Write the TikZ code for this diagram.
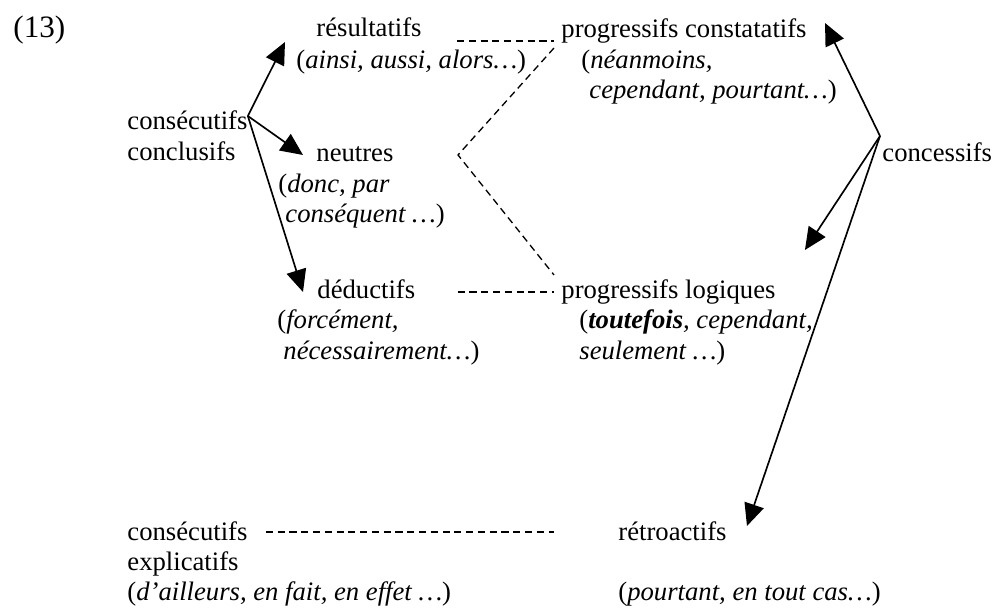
\documentclass[tikz,border=0pt]{standalone}
\usepackage{fontspec}
\setmainfont{Liberation Serif}
\usetikzlibrary{arrows.meta}
\tikzset{
term/.style={
    inner sep=0pt,
    anchor=base west,
    font=\fontsize{12}{13.8}\selectfont
},
points/.style={
    -{Triangle[length=10pt,width=9pt]},
    line width=0.75pt
},
matches/.style={
    dash pattern=on 3.2pt off 2.1pt,
    line width=0.6pt
}}

\begin{document}
\begin{tikzpicture}[x=0.45pt, y=-0.45pt]
\useasboundingbox (0,0) rectangle (994,615);

\node[term, font=\fontsize{14}{16}\selectfont] (num) at (13,38) {(13)};

% left column
\node[term] (conscons) at (127,130) {consécutifs};
\node[term] (consconc) at (127,161) {conclusifs};
\node[term] (consexp)  at (127,541) {consécutifs};
\node[term] (consexpb) at (127,571) {explicatifs};
\node[term] (consexpex) at (127,601) {(\textit{d’ailleurs, en fait, en effet …})};

% middle column
\node[term] (res)    at (316,37)  {résultatifs};
\node[term] (resex)  at (296,69)  {(\textit{ainsi, aussi, alors…})};
\node[term] (neut)   at (316,162) {neutres};
\node[term] (neutexa) at (278,193) {(\textit{donc, par}};
\node[term] (neutexb) at (285,223) {\textit{conséquent …})};
\node[term] (ded)    at (317,299) {déductifs};
\node[term] (dedexa) at (277,329) {(\textit{forcément,}};
\node[term] (dedexb) at (283,360) {\textit{nécessairement…})};

% right column
\node[term] (progc)    at (561,38)  {progressifs constatatifs};
\node[term] (progcexa) at (581,69)  {(\textit{néanmoins,}};
\node[term] (progcexb) at (589,99)  {\textit{cependant, pourtant…})};
\node[term] (progl)    at (561,299) {progressifs logiques};
\node[term] (proglexa) at (579,329) {(\textit{\textbf{toutefois}, cependant,}};
\node[term] (proglexb) at (579,360) {\textit{seulement …})};
\node[term] (retro)    at (618,541) {rétroactifs};
\node[term] (retroex)  at (618,601) {(\textit{pourtant, en tout cas…})};
\node[term] (conc)     at (882,162) {concessifs};

\coordinate (cfork) at ([shift={(0,-14)}]conscons.base east);
\coordinate (kfork) at ([shift={(-2,-26)}]conc.base west);
\coordinate (zig)   at (458,155);

% arrows
\draw[points] (cfork) -- ([shift={(-31,5)}]res.base west);
\draw[points] (cfork) -- ([shift={(-13,-7)}]neut.base west);
\draw[points] (cfork) -- ([shift={(-14,-7)}]ded.base west);
\draw[points] (kfork) -- ([shift={(18,-15)}]progc.base east);
\draw[points] (kfork) -- ([shift={(29,-49)}]progl.base east);
\draw[points] (kfork) -- ([shift={(20,-15)}]retro.base east);

% dashed links
\draw[matches] ([shift={(35,4)}]res.base east) -- ([shift={(-7,3)}]progc.base west);
\draw[matches] ([shift={(-7,10)}]progc.base west) -- (zig) -- ([shift={(-7,-24)}]progl.base west);
\draw[matches] ([shift={(42,-7)}]ded.base east) -- ([shift={(-7,-7)}]progl.base west);
\draw[matches] ([shift={(18,-9)}]consexp.base east) -- ([shift={(-64,-9)}]retro.base west);
\end{tikzpicture}
\end{document}
